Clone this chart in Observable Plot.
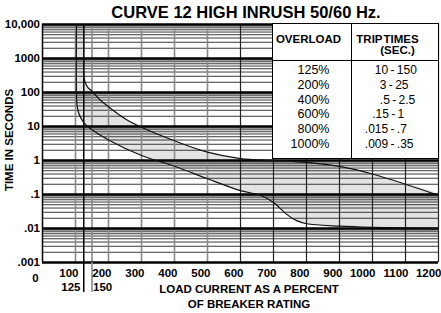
<!DOCTYPE html>
<html>
<head>
<meta charset="utf-8">
<script src="https://cdn.jsdelivr.net/npm/d3@7"></script>
<script src="https://cdn.jsdelivr.net/npm/@observablehq/plot@0.6"></script>
<style>
  html, body { margin: 0; padding: 0; background: #fff; }
  #wrap { position: relative; width: 441px; height: 313px; overflow: hidden; font-family: "Liberation Sans", Arial, sans-serif; color: #000; }
  #wrap svg { position: absolute; left: 0; top: 0; }
  .abs { position: absolute; white-space: nowrap; }
  .b { font-weight: bold; }
</style>
</head>
<body>
<div id="wrap"></div>
<script>
// ---- data ----
const titleText = "CURVE 12 HIGH INRUSH 50/60 Hz.";
const yTitle = "TIME IN SECONDS";
const xTitle = ["LOAD CURRENT AS A PERCENT", "OF BREAKER RATING"];

const yTicks = [0.001, 0.01, 0.1, 1, 10, 100, 1000, 10000];
const yTickLabels = [".001", ".01", ".1", "1", "10", "100", "1000", "10,000"];
const minorMultipliers = [2, 3, 4, 5, 6, 7, 8, 9];
const xTicks = [100, 200, 300, 400, 500, 600, 700, 800, 900, 1000, 1100, 1200];
const grayVerticals = [100, 150, 200, 300, 400, 500];
const darkVerticals = [600, 700, 800, 900, 1000, 1100, 1200];
const markedTicks = [125, 150];

// upper (maximum trip time) curve
const upperX = [125, 125, 126, 130, 138, 150, 175, 200, 250, 300, 400, 500, 600, 700, 800, 900, 1000, 1100, 1200];
const upperY = [10000, 500, 280, 190, 140, 110, 60, 38, 17, 9.5, 3.8, 1.76, 1.14, 1.0, 0.88, 0.67, 0.4, 0.2, 0.094];
// lower (minimum trip time) curve
const lowerX = [103, 103, 105, 110, 125, 150, 200, 300, 400, 500, 600, 660, 700, 740, 770, 800, 900, 1000, 1200];
const lowerY = [10000, 80, 40, 24, 13, 8, 4, 1.4, 0.68, 0.29, 0.13, 0.095, 0.058, 0.026, 0.017, 0.0138, 0.0117, 0.0108, 0.0101];

const overloads = ["125%", "200%", "400%", "600%", "800%", "1000%"];
const tripTimes = ["10 - 150", "3 - 25", ".5 - 2.5", ".15 - 1", ".015 - .7", ".009 - .35"];

// ---- build ----
const upper = upperX.map((x, i) => ({x, y: upperY[i]}));
const lower = lowerX.map((x, i) => ({x, y: lowerY[i]}));
const band = [...upper, ...lower.slice().reverse()];
const minorTicks = yTicks.slice(0, -1).flatMap(d => minorMultipliers.map(m => +(m * d).toPrecision(6)));
const yLabelMap = new Map(yTicks.map((v, i) => [v, yTickLabels[i]]));

const chart = Plot.plot({
  width: 441,
  height: 313,
  marginLeft: 42,
  marginRight: 3,
  marginTop: 24,
  marginBottom: 51,
  style: {fontFamily: '"Liberation Sans", Arial, sans-serif', fontWeight: "bold", fontSize: "12px", background: "transparent", color: "#000", overflow: "visible"},
  x: {domain: [0, 1200], label: null},
  y: {type: "log", domain: [0.001, 10000], label: null},
  marks: [
    Plot.line(band, {x: "x", y: "y", fill: "#e3e3e3", stroke: null, curve: "catmull-rom", clip: true}),
    Plot.ruleY(minorTicks, {stroke: "#3a3a3a", strokeWidth: 1}),
    Plot.ruleX(grayVerticals, {stroke: "#8a8a8a", strokeWidth: 1.6}),
    Plot.ruleX(darkVerticals, {stroke: "#222", strokeWidth: 1.2}),
    Plot.ruleY(yTicks, {stroke: "#000", strokeWidth: 2.4}),
    Plot.ruleX([0], {stroke: "#000", strokeWidth: 1.5}),
    Plot.ruleX([125], {stroke: "#000", strokeWidth: 1.5}),
    Plot.axisX({ticks: [125], tickSize: 30, tickFormat: () => "", stroke: "#000", strokeWidth: 1.5}),
    Plot.axisX({ticks: [150], tickSize: 30, tickFormat: () => "", stroke: "#8a8a8a", strokeWidth: 1.6}),
    Plot.line(upper, {x: "x", y: "y", stroke: "#111", strokeWidth: 1.2, curve: "catmull-rom", clip: true}),
    Plot.line(lower, {x: "x", y: "y", stroke: "#111", strokeWidth: 1.2, curve: "catmull-rom", clip: true}),
    Plot.axisY({ticks: yTicks, tickSize: 0, tickPadding: 2.5, tickFormat: d => yLabelMap.get(d), fontSize: 11.5}),
    Plot.axisX({ticks: xTicks, tickSize: 0, tickPadding: 6.5, tickFormat: d => String(d), textAnchor: "end", dx: 3, fontSize: 11.5}),
    Plot.text([0], {x: d => d, text: d => String(d), frameAnchor: "bottom", lineAnchor: "middle", dy: 16, dx: -7, fontSize: 11.5}),
    Plot.text([markedTicks[0]], {x: d => d, text: d => String(d), frameAnchor: "bottom", lineAnchor: "middle", dy: 24.5, dx: -3.3, textAnchor: "end", fontSize: 11.5}),
    Plot.text([markedTicks[1]], {x: d => d, text: d => String(d), frameAnchor: "bottom", lineAnchor: "middle", dy: 24.5, dx: 1, textAnchor: "start", fontSize: 11.5})
  ]
});

const wrap = document.getElementById("wrap");
wrap.appendChild(chart);

function addDiv(text, css, cls) {
  const d = document.createElement("div");
  d.className = "abs " + (cls || "");
  d.textContent = text;
  Object.assign(d.style, css);
  wrap.appendChild(d);
  return d;
}

// title
addDiv(titleText, {left: "96px", width: "300px", top: "4px", textAlign: "center", fontSize: "16.5px", lineHeight: "16.5px"}, "b");
// y title
addDiv(yTitle, {left: "10px", top: "140px", transform: "translate(-50%,-50%) rotate(-90deg)", fontSize: "11.5px", lineHeight: "11.5px"}, "b");
// x title
const xt = addDiv("", {left: "149px", width: "200px", top: "281.9px", textAlign: "center", fontSize: "11.5px", lineHeight: "15.2px"}, "b");
xt.innerHTML = xTitle.join("<br>");

// table overlay
const box = document.createElement("div");
Object.assign(box.style, {position: "absolute", left: "271.5px", top: "22.5px", width: "167px", height: "136px", boxSizing: "border-box", border: "1.5px solid #000", background: "#fff"});
wrap.appendChild(box);
const vline = document.createElement("div");
Object.assign(vline.style, {position: "absolute", left: "78.7px", top: "0", width: "1.2px", height: "100%", background: "#000"});
box.appendChild(vline);
const hline = document.createElement("div");
Object.assign(hline.style, {position: "absolute", left: "0", top: "36.3px", width: "100%", height: "1.2px", background: "#000"});
box.appendChild(hline);

function boxText(text, css, bold) {
  const d = document.createElement("div");
  d.className = "abs" + (bold ? " b" : "");
  d.textContent = text;
  Object.assign(d.style, css);
  box.appendChild(d);
}
const bx = 271.5 + 1.5, by = 22.5 + 1.5;
boxText("OVERLOAD", {left: (309 - 60 - bx) + "px", width: "120px", textAlign: "center", top: (39 - by - 6) + "px", fontSize: "11.5px", lineHeight: "12px"}, true);
boxText("TRIP TIMES", {left: (388 - 60 - bx) + "px", width: "120px", textAlign: "center", top: (39 - by - 6) + "px", fontSize: "11.5px", lineHeight: "12px", wordSpacing: "-2px"}, true);
boxText("(SEC.)", {left: (398 - 60 - bx) + "px", width: "120px", textAlign: "center", top: (50.8 - by - 6) + "px", fontSize: "11.5px", lineHeight: "12px"}, true);

const rowY0 = 70.8, rowStep = 14.7;
const tripLeft = [375.3, 380.3, 380.3, 372.7, 365.3, 365.3];
overloads.forEach((t, i) => {
  const cy = rowY0 + i * rowStep;
  boxText(t, {left: (330 - 100 - bx) + "px", width: "100px", textAlign: "right", top: (cy - by - 7) + "px", fontSize: "12.5px", lineHeight: "14px"});
  boxText(tripTimes[i], {left: (tripLeft[i] - bx) + "px", top: (cy - by - 7) + "px", fontSize: "12px", lineHeight: "14px", wordSpacing: "-1px"});
});
</script>
</body>
</html>
